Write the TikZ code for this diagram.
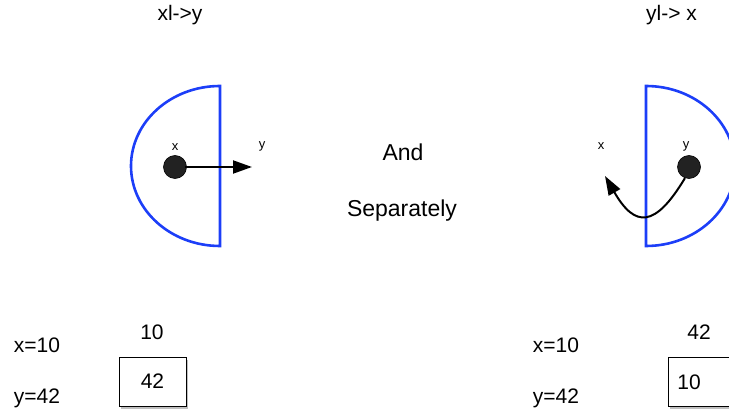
\documentclass[tikz,border=0pt]{standalone}
\usepackage{fontspec}
\setmainfont{Liberation Sans}
\usetikzlibrary{positioning, arrows.meta, shadows}
\definecolor{halfblue}{RGB}{28, 62, 248}
\definecolor{dotgray}{RGB}{34, 34, 34}

\begin{document}
\begin{tikzpicture}[x=1pt, y=1pt,
      half/.style={draw=halfblue, line width=2.6pt},
      dot/.style={circle, draw=black, fill=dotgray, line width=0.6pt,
                  minimum size=23pt, inner sep=0pt},
      arr/.style={-{Triangle[length=19pt, width=13pt]}, line width=2pt, black},
      lbl/.style={inner sep=0pt, font=\fontsize{21}{25}\selectfont},
      big/.style={inner sep=0pt, font=\fontsize{23}{27}\selectfont},
      tiny/.style={inner sep=0pt, font=\fontsize{13}{15}\selectfont},
      valbox/.style={draw=black, fill=white, line width=0.8pt,
                     minimum width=67pt, minimum height=49pt,
                     font=\fontsize{21}{25}\selectfont,
                     drop shadow={opacity=0.5, shadow xshift=2pt, shadow yshift=-2.5pt}}]
    \useasboundingbox (0,0) rectangle (729,413);
    \clip (0,0) rectangle (729,413);
    % left: x goes to y
    \node[lbl, anchor=base] (titlel) at (180,392) {xl->y};
    \draw[half] (220,327) arc[start angle=90, end angle=270, x radius=89, y radius=80] -- cycle;
    \node[dot] (dotl) at (175,246) {};
    \node[tiny] (xl) at (175,266) {x};
    \node[tiny] (yl) at (262,267) {y};
    \coordinate (tipy) at (252,246);
    \draw[arr, shorten <=-2pt] (dotl) -- (tipy);
    % middle
    \node[big, anchor=base] (andw) at (403,252) {And};
    \node[big, anchor=base] (sepw) at (402,196) {Separately};
    % right: y goes to x
    \node[lbl, anchor=base] (titler) at (671.5,392) {yl-> x};
    \draw[half] (646,327) arc[start angle=90, end angle=-90, x radius=89, y radius=80] -- cycle;
    \node[dot] (dotr) at (689,246) {};
    \node[tiny] (yr) at (686,267) {y};
    \node[tiny] (xr) at (601,267) {x};
    \coordinate (tipx) at (605,237);
    \draw[arr] (dotr.250) .. controls (655,185) and (635,185) .. (tipx);
    % values
    \node[lbl, anchor=base] (xvl) at (37,61) {x=10};
    \node[lbl, anchor=base] (yvl) at (37,10) {y=42};
    \node[lbl, anchor=base] (topl) at (152,74) {10};
    \node[valbox] (boxl) at (152.5,31.5) {42};
    \node[lbl, anchor=base] (xvr) at (556,61) {x=10};
    \node[lbl, anchor=base] (yvr) at (556,10) {y=42};
    \node[lbl, anchor=base] (topr) at (699,74) {42};
    \node[valbox, anchor=north west, text width=49pt, inner xsep=9pt, align=left] (boxr) at (668,56) {10};
  \end{tikzpicture}
\end{document}
